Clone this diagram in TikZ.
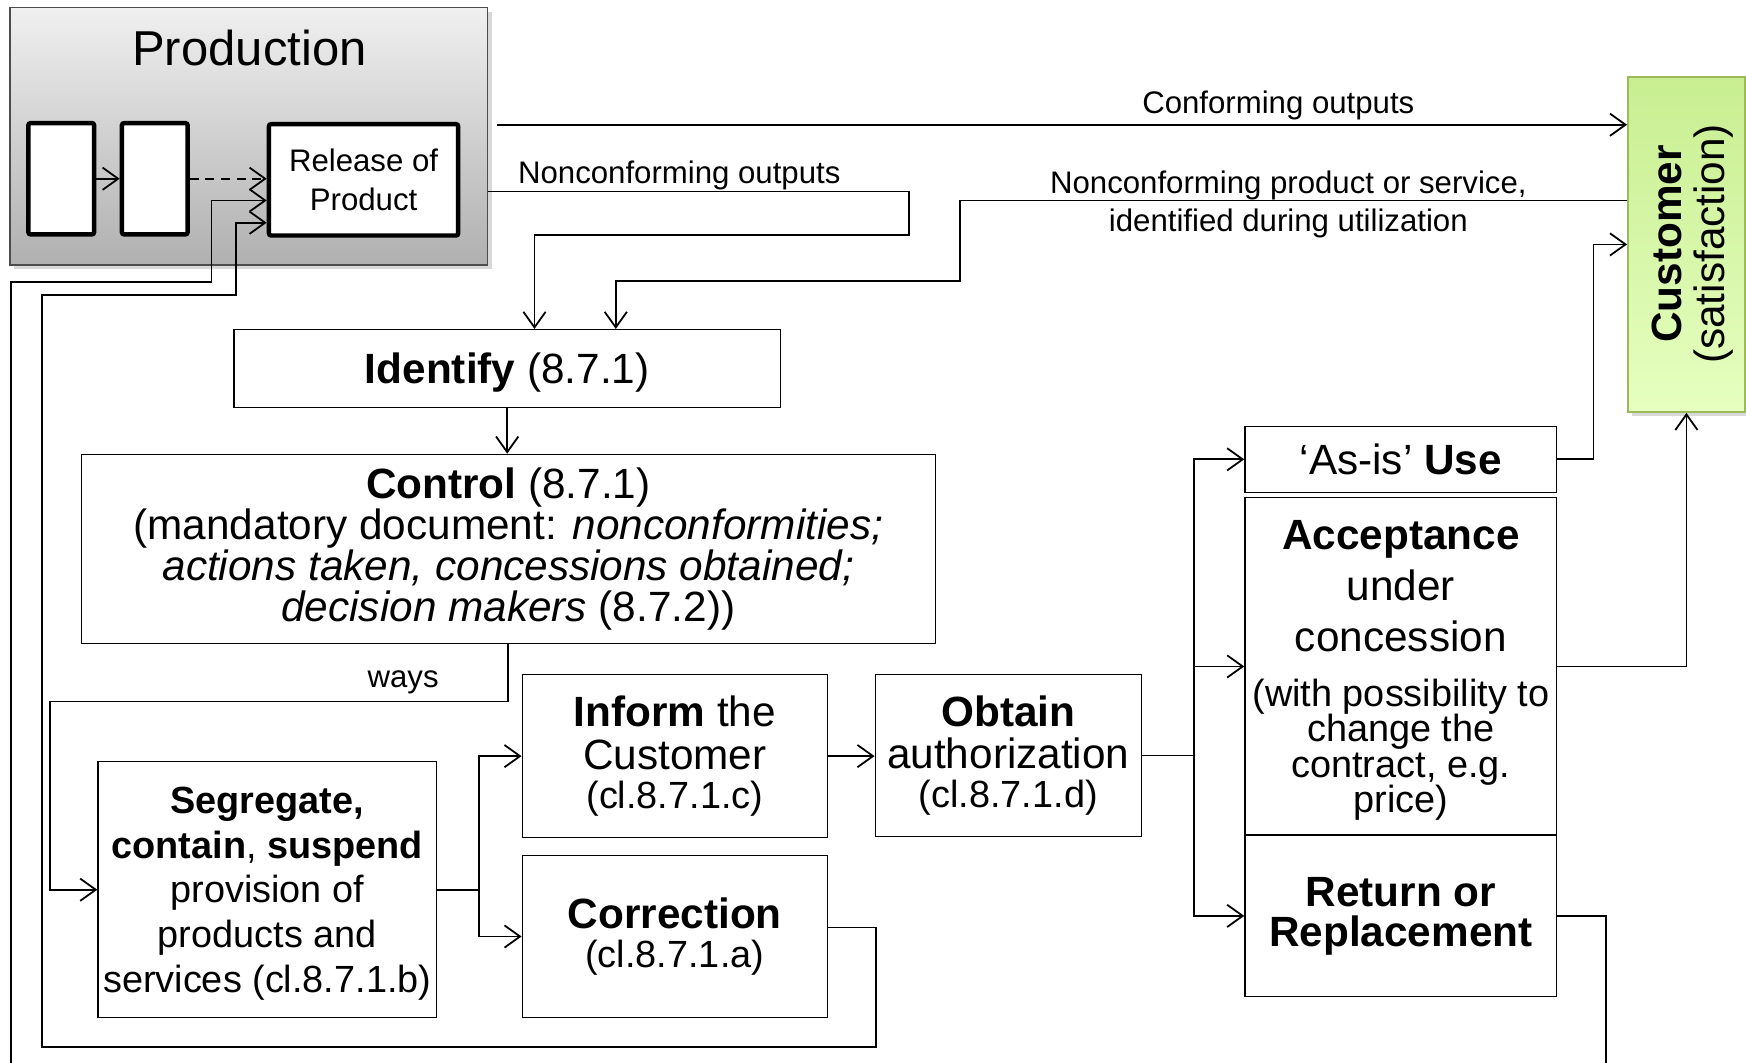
\documentclass[tikz,border=0pt]{standalone}
\usepackage{fontspec}
\setmainfont{Liberation Sans}
\usepackage{tikz}
\usetikzlibrary{arrows.meta, calc, shadows}
\definecolor{prodTop}{RGB}{240,240,240}
\definecolor{prodBot}{RGB}{176,176,176}
\definecolor{custTop}{RGB}{200,238,145}
\definecolor{custBot}{RGB}{230,255,192}
\definecolor{custEdge}{RGB}{155,187,89}
\def\px{0.5pt}
\newcommand{\fs}[2]{\fontsize{#1}{#2}\selectfont}
\lineskiplimit=-30pt

\begin{document}
\begin{tikzpicture}[x=\px, y=-\px,
		box/.style={draw, line width=0.6pt, fill=white, inner sep=0pt, align=center},
		thickbox/.style={draw, line width=2pt, rounded corners=1pt, fill=white, inner sep=0pt, align=center},
		conn/.style={line width=0.8pt},
		arr/.style={conn, -{Straight Barb[length=7pt, width=10pt]}},
		lbl/.style={inner sep=0pt, align=center, text depth=0pt, font=\fs{14}{17}}
	]

	\path[fill=white, use as bounding box] (0,0) rectangle (1568,954.6);

	% production
	\node[draw=gray!60!black, line width=0.6pt, top color=prodTop, bottom color=prodBot,
		drop shadow={shadow xshift=2pt, shadow yshift=-2pt, opacity=0.3},
		minimum width=429*\px, minimum height=231*\px] (Prod) at (223.5,122.5) {};
	\node[font=\fs{22}{26}] (ProdT) at (224,43) {Production};
	\node[thickbox, minimum width=59*\px, minimum height=100*\px] (P1) at (55,160.5) {};
	\node[thickbox, minimum width=59*\px, minimum height=100*\px] (P2) at (139,160.5) {};
	\node[thickbox, minimum width=170*\px, minimum height=100*\px, font=\fs{14}{17.5}] (Rel) at (326.5,161.5) {Release of\\Product};

	% customer
	\node[draw=custEdge, line width=0.8pt, top color=custTop, bottom color=custBot,
		drop shadow={shadow xshift=2pt, shadow yshift=-2pt, opacity=0.3},
		minimum width=105*\px, minimum height=301*\px] (Cust) at (1514.5,219.5) {};
	\node[rotate=90, align=center, font=\fs{19}{19}] (CustT) at (1520,219) {\textbf{Customer}\\(satisfaction)};

	% nonconformity handling
	\node[box, text depth=0pt, minimum width=491*\px, minimum height=70*\px, font=\fs{19}{19}] (Ident) at (455.5,331) {\textbf{Identify} (8.7.1)};
	\node[box, minimum width=767*\px, minimum height=170*\px, font=\fs{19}{18.5}] (Ctrl) at (456.5,493)
		{\textbf{Control} (8.7.1)\\(mandatory document: \textit{nonconformities;}\\\textit{actions taken, concessions obtained;}\\\textit{decision makers} (8.7.2))};
	\node[box, text depth=0pt, minimum width=304*\px, minimum height=230*\px, font=\fs{17}{20}] (Seg) at (240,799)
		{\textbf{Segregate,}\\\textbf{contain}, \textbf{suspend}\\provision of\\products and\\services (cl.8.7.1.b)};
	\node[box, minimum width=274*\px, minimum height=146*\px, font=\fs{19}{19}] (Inf) at (606,679)
		{\textbf{Inform} the\\Customer\\[-1.5pt]\fs{17}{17}(cl.8.7.1.c)};
	\node[box, minimum width=274*\px, minimum height=146*\px, font=\fs{19}{19}] (Corr) at (606,841)
		{\textbf{Correction}\\[-1.5pt]\fs{17}{17}(cl.8.7.1.a)};
	\node[box, minimum width=239*\px, minimum height=145*\px, font=\fs{19}{19}] (Obt) at (905.5,678.5)
		{\textbf{Obtain}\\authorization\\[-1.5pt]\fs{17}{17}(cl.8.7.1.d)};
	\node[box, minimum width=280*\px, minimum height=59*\px, font=\fs{19}{19}] (AsIs) at (1258,412.5) {‘As-is’ \textbf{Use}};
	\node[box, text depth=0pt, minimum width=280*\px, minimum height=303*\px, font=\fs{19}{23}] (Acc) at (1258,598.5)
		{\textbf{Acceptance}\\under\\concession\\[1.5pt]\fs{17}{16}(with possibility to\\[-7pt]\fs{17}{16}change the\\[-7pt]\fs{17}{16}contract, e.g.\\[-7pt]\fs{17}{16}price)};
	\node[box, minimum width=280*\px, minimum height=145*\px, font=\fs{19}{18}] (Ret) at (1258,822.5)
		{\textbf{Return or}\\\textbf{Replacement}};

	\coordinate (S1) at (430,799);
	\coordinate (S2) at (1072,678.5);
	\coordinate (LoopL) at (10,954.6);
	\coordinate (LoopR) at (1442,954.6);

	% inside production
	\draw[arr] (P1.east) -- (P2.west);
	\draw[arr, dash pattern=on 4pt off 3pt] (P2.east) -- (P2.east -| Rel.west);
	\draw[arr] (LoopL) |- (190,253) |- ($(Rel.west)+(0,18.5)$);
	\draw[arr] ($(Corr.east)+(0,-8)$) -| (787,940) -| (38,265) -| (212,200) -- ($(Rel.west)+(0,38.5)$);

	% outputs
	\draw[arr] ($(Prod.east)+(8,-10.5)$) -- ($(Cust.west)+(0,-107.5)$);
	\node[lbl] (ConfL) at (1148,92) {Conforming outputs};
	\draw[arr] ($(Prod.east)+(0,49.5)$) -| (816,211) -| ($(Ident.north)+(24.5,0)$);
	\node[lbl] (NcoL) at (610,155) {Nonconforming outputs};
	\draw[arr] ($(Cust.west)+(0,-39.5)$) -| (862,252) -| ($(Ident.north)+(97.5,0)$);
	\node[lbl] (NcpL) at (1157,181) {Nonconforming product or service,\\identified during utilization};

	\draw[arr] (Ident.south) -- (Ident.south |- Ctrl.north);
	\draw[arr] (Ctrl.south) |- (45,630) |- (Seg.west);
	\node[lbl] (WaysL) at (362,610) {ways};

	\draw[conn] (Seg.east) -- (S1);
	\draw[arr] (S1) |- (Inf.west);
	\draw[arr] (S1) |- (Corr.west);
	\draw[arr] (Inf.east) -- (Inf.east -| Obt.west);

	\draw[conn] (Obt.east) -- (S2);
	\draw[arr] (S2) |- (AsIs.west);
	\draw[arr] (S2) |- (Acc.west);
	\draw[arr] (S2) |- (Ret.west);

	\draw[arr] (AsIs.east) -| (1431,219.5) -- (Cust.west);
	\draw[arr] (Acc.east) -| (Cust.south);
	\draw[conn] (Ret.east) -| (LoopR);

\end{tikzpicture}
\end{document}
